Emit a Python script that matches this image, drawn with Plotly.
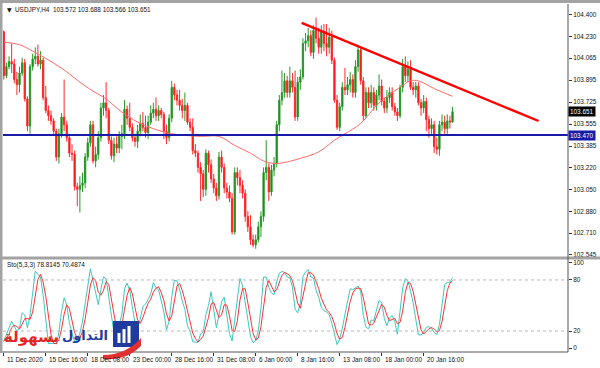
import plotly.graph_objects as go
import numpy as np

# ---------------- data (USDJPY H4) ----------------
opens = [104.27,103.93,104.00,104.04,104.02,103.90,103.86,103.95,104.03,103.75,
         103.54,104.00,104.06,104.08,104.02,104.05,103.76,103.66,103.62,103.58,
         103.50,103.30,103.48,103.61,103.55,103.45,103.33,103.32,103.07,103.05,
         103.08,103.10,103.30,103.41,103.55,103.27,103.32,103.45,103.68,103.72,
         103.66,103.43,103.31,103.40,103.37,103.46,103.48,103.67,103.60,103.53,
         103.45,103.42,103.50,103.56,103.53,103.49,103.57,103.64,103.67,103.62,
         103.66,103.63,103.50,103.45,103.60,103.84,103.78,103.74,103.70,103.66,
         103.70,103.57,103.53,103.35,103.33,103.22,103.17,103.05,103.33,103.24,
         103.13,103.06,103.00,103.30,103.22,103.06,103.03,102.98,102.72,103.18,
         103.14,103.08,103.02,102.84,102.76,102.66,102.62,102.66,102.76,102.84,
         103.18,103.22,103.03,103.20,103.25,103.55,103.74,103.80,103.89,103.80,
         103.89,103.84,103.61,103.88,103.92,104.18,104.20,104.24,104.11,104.28,
         104.22,104.15,104.27,104.18,104.15,104.23,104.05,103.74,103.53,103.69,
         103.84,103.82,103.86,103.90,103.80,104.00,104.13,103.89,103.62,103.80,
         103.72,103.80,103.70,103.78,103.85,103.73,103.68,103.76,103.80,103.69,
         103.65,103.62,103.84,104.00,103.93,103.98,103.84,103.82,103.85,103.72,
         103.68,103.73,103.59,103.52,103.55,103.38,103.36,103.55,103.57,103.52,
         103.58,103.572]
highs = [104.28,104.03,104.08,104.18,104.06,103.96,104.00,104.07,104.06,103.77,
         104.02,104.10,104.15,104.17,104.12,104.07,103.85,103.70,103.66,103.60,
         103.52,103.52,103.64,103.90,103.58,103.48,103.40,103.35,103.10,103.15,
         103.18,103.33,103.45,103.58,103.58,103.38,103.50,103.72,103.78,103.88,
         103.68,103.46,103.45,103.46,103.50,103.55,103.74,103.70,103.72,103.56,
         103.48,103.55,103.63,103.65,103.62,103.62,103.70,103.72,103.76,103.70,
         103.68,103.65,103.55,103.63,103.89,103.87,103.82,103.82,103.75,103.80,
         103.72,103.60,103.60,103.40,103.35,103.26,103.20,103.36,103.35,103.28,
         103.17,103.10,103.34,103.35,103.25,103.10,103.08,103.02,103.22,103.22,
         103.20,103.12,103.05,102.88,102.85,102.70,102.70,102.80,102.88,103.22,
         103.43,103.25,103.24,103.30,103.58,103.78,103.97,103.95,103.93,104.00,
         103.95,103.97,103.92,103.98,104.22,104.26,104.30,104.28,104.32,104.38,
         104.30,104.32,104.33,104.33,104.30,104.28,104.07,103.78,103.72,103.88,
         103.99,103.92,103.96,103.94,104.05,104.17,104.15,103.92,103.84,103.84,
         103.86,103.84,103.82,103.94,103.90,103.76,103.82,103.84,103.84,103.72,
         103.68,103.86,104.06,104.08,104.04,104.05,103.88,103.88,103.88,103.75,
         103.78,103.76,103.62,103.60,103.58,103.45,103.58,103.63,103.62,103.63,
         103.62,103.688]
lows = [103.90,103.91,103.98,103.95,103.87,103.78,103.80,103.93,103.73,103.50,
        103.48,103.97,104.02,104.00,103.98,103.74,103.64,103.58,103.55,103.47,
        103.27,103.25,103.45,103.50,103.42,103.30,103.27,103.04,102.92,102.87,
        103.03,103.06,103.27,103.38,103.25,103.22,103.28,103.42,103.62,103.60,
        103.40,103.28,103.26,103.33,103.33,103.36,103.44,103.55,103.50,103.42,
        103.38,103.37,103.46,103.50,103.45,103.44,103.55,103.60,103.58,103.58,
        103.60,103.44,103.40,103.42,103.57,103.74,103.70,103.66,103.60,103.58,
        103.55,103.50,103.32,103.30,103.18,102.96,102.99,103.00,103.18,103.10,
        103.02,102.96,102.97,103.18,103.02,102.98,102.95,102.70,102.70,103.08,
        103.02,102.98,102.80,102.72,102.62,102.60,102.59,102.64,102.68,102.80,
        103.12,102.96,103.00,103.15,103.22,103.50,103.70,103.76,103.76,103.76,
        103.80,103.58,103.58,103.82,103.90,104.12,104.15,104.08,104.06,104.18,
        104.10,104.10,104.12,104.08,104.10,104.02,103.72,103.51,103.50,103.66,
        103.78,103.78,103.80,103.76,103.76,103.96,103.86,103.58,103.60,103.68,
        103.68,103.66,103.66,103.74,103.70,103.64,103.64,103.72,103.66,103.62,
        103.58,103.60,103.80,103.88,103.88,103.82,103.78,103.76,103.70,103.62,
        103.64,103.50,103.45,103.48,103.33,103.32,103.31,103.50,103.48,103.48,
        103.52,103.566]
closes = [103.93,104.00,104.04,104.02,103.90,103.86,103.95,104.03,103.75,103.54,
          104.00,104.06,104.08,104.02,104.05,103.76,103.66,103.62,103.58,103.50,
          103.30,103.48,103.61,103.55,103.45,103.33,103.32,103.07,103.05,103.08,
          103.10,103.30,103.41,103.55,103.27,103.32,103.45,103.68,103.72,103.66,
          103.43,103.31,103.40,103.37,103.46,103.48,103.67,103.60,103.53,103.45,
          103.42,103.50,103.56,103.53,103.49,103.57,103.64,103.67,103.62,103.66,
          103.63,103.50,103.45,103.60,103.84,103.78,103.74,103.70,103.66,103.70,
          103.57,103.53,103.35,103.33,103.22,103.17,103.05,103.33,103.24,103.13,
          103.06,103.00,103.30,103.22,103.06,103.03,102.98,102.72,103.18,103.14,
          103.08,103.02,102.84,102.76,102.66,102.62,102.66,102.76,102.84,103.18,
          103.22,103.03,103.20,103.25,103.55,103.74,103.80,103.89,103.80,103.89,
          103.84,103.61,103.88,103.92,104.18,104.20,104.24,104.11,104.28,104.22,
          104.15,104.27,104.18,104.15,104.23,104.05,103.74,103.53,103.69,103.84,
          103.82,103.86,103.90,103.80,104.00,104.13,103.89,103.62,103.80,103.72,
          103.80,103.70,103.78,103.85,103.73,103.68,103.76,103.80,103.69,103.65,
          103.62,103.84,104.00,103.93,103.98,103.84,103.82,103.85,103.72,103.68,
          103.73,103.59,103.52,103.55,103.38,103.36,103.55,103.57,103.52,103.58,
          103.572,103.651]

# moving average (at selected bars)
ma_idx = [0, 6, 11, 18, 24, 29, 34, 39, 43, 47, 52, 57, 64, 75, 82, 88, 94, 99,
          104, 113, 120, 126, 130, 136, 143, 151, 155, 158, 164, 171]
ma_vals = [104.19, 104.17, 104.12, 104.04, 103.96, 103.88, 103.81, 103.75, 103.68,
           103.62, 103.56, 103.52, 103.48, 103.46, 103.46, 103.39, 103.33, 103.27,
           103.25, 103.29, 103.34, 103.43, 103.48, 103.56, 103.72, 103.84, 103.89,
           103.89, 103.83, 103.77]

# drawn objects
trend_x = [113.5, 203.8]
trend_y = [104.338, 103.579]
support_level = 103.470
last_price = 103.651

price_ticks = [104.400, 104.230, 104.065, 103.895, 103.725, 103.555, 103.385,
               103.220, 103.050, 102.880, 102.710, 102.545]
sto_ticks = [0, 20, 80, 100]
date_tick_idx = [0, 16, 32, 48, 64, 80, 96, 112, 128, 144, 160]
date_tick_text = ["11 Dec 2020", "15 Dec 16:00", "18 Dec 08:00", "23 Dec 00:00",
                  "28 Dec 16:00", "31 Dec 08:00", "6 Jan 00:00", "8 Jan 16:00",
                  "13 Jan 08:00", "18 Jan 00:00", "20 Jan 16:00"]
title_text = "USDJPY,H4  103.572 103.688 103.566 103.651"
sto_params = (5, 3, 3)
sto_shown = ["78.8145", "70.4874"]

# ---------------- stochastic from the OHLC ----------------
n = len(closes)
idx = list(range(n))
H_ = np.array(highs); L_ = np.array(lows); C_ = np.array(closes)
kp, slow, dp = sto_params
num = np.zeros(n); den = np.zeros(n)
for i in range(n):
    a = max(0, i - kp + 1)
    ll = L_[a:i + 1].min(); hh = H_[a:i + 1].max()
    num[i] = C_[i] - ll; den[i] = hh - ll
K = np.zeros(n)
for i in range(n):
    a = max(0, i - slow + 1)
    d = den[a:i + 1].sum()
    K[i] = 100 * num[a:i + 1].sum() / d if d > 0 else 50
D = np.array([K[max(0, i - dp + 1):i + 1].mean() for i in range(n)])

# ---------------- geometry helpers (pixels -> paper) ----------------
PL, PR, PT, PB = 3, 568, 4, 352
def px(x):
    return (x - PL) / (PR - PL)
def py(y):
    return (PB - y) / (PB - PT)

FONT = "Liberation Sans, Arial, DejaVu Sans, sans-serif"
fs = 6.4

fig = go.Figure()
fig.add_trace(go.Candlestick(
    x=idx, open=opens, high=highs, low=lows, close=closes,
    increasing=dict(line=dict(color="#2a9a2a", width=1), fillcolor="#0b7d0b"),
    decreasing=dict(line=dict(color="#ff2a2a", width=1), fillcolor="#ff0000"),
    whiskerwidth=0, showlegend=False, hoverinfo="skip", xaxis="x", yaxis="y"))
fig.add_trace(go.Scatter(x=ma_idx, y=ma_vals, mode="lines",
                         line=dict(color="#ff6a6a", width=1, shape="spline"),
                         showlegend=False, hoverinfo="skip", xaxis="x", yaxis="y"))
fig.add_trace(go.Scatter(x=trend_x, y=trend_y, mode="lines",
                         line=dict(color="#ff0000", width=2.4),
                         showlegend=False, hoverinfo="skip", xaxis="x", yaxis="y"))
fig.add_trace(go.Scatter(x=idx, y=K, mode="lines", line=dict(color="#3cc8c0", width=1),
                         showlegend=False, hoverinfo="skip", xaxis="x2", yaxis="y2"))
fig.add_trace(go.Scatter(x=idx, y=D, mode="lines", line=dict(color="#ff3030", width=1),
                         showlegend=False, hoverinfo="skip", xaxis="x2", yaxis="y2"))

shapes = []
# support line
shapes.append(dict(type="line", xref="paper", yref="y", x0=0, x1=1,
                   y0=support_level, y1=support_level,
                   line=dict(color="#1a1aa8", width=2)))
# stochastic levels
for lv in (20, 80):
    shapes.append(dict(type="line", xref="paper", yref="y2", x0=0, x1=1, y0=lv, y1=lv,
                       line=dict(color="#b8b8b8", width=1, dash="dot")))
# frame
gray = "#a3a3a3"
shapes.append(dict(type="rect", xref="paper", yref="paper", x0=px(0), x1=px(600),
                   y0=py(3), y1=py(0), fillcolor=gray, line=dict(width=0), layer="above"))
shapes.append(dict(type="rect", xref="paper", yref="paper", x0=px(0), x1=px(2.5),
                   y0=py(353), y1=py(0), fillcolor=gray, line=dict(width=0), layer="above"))
shapes.append(dict(type="rect", xref="paper", yref="paper", x0=px(0), x1=px(600),
                   y0=py(259.5), y1=py(256.5), fillcolor=gray, line=dict(width=0), layer="above"))
shapes.append(dict(type="line", xref="paper", yref="paper", x0=1, x1=1, y0=0, y1=py(4),
                   line=dict(color="#555555", width=1)))
shapes.append(dict(type="line", xref="paper", yref="paper", x0=px(2.5), x1=1, y0=0, y1=0,
                   line=dict(color="#555555", width=1)))

# logo icon
shapes.append(dict(type="rect", xref="paper", yref="paper", x0=px(113), x1=px(139),
                   y0=py(347), y1=py(321), fillcolor="#1f3c9c", line=dict(width=0), layer="above"))
for (x0, x1, ytop) in [(117.5, 120.5, 333), (122.5, 125.5, 329), (127.5, 130.5, 326)]:
    shapes.append(dict(type="rect", xref="paper", yref="paper", x0=px(x0), x1=px(x1),
                       y0=py(343), y1=py(ytop), fillcolor="white", line=dict(width=0), layer="above"))
sw = "M {a},{b} Q {c},{d} {e},{f} L {g},{h} Q {i},{j} {k},{l} Z".format(
    a=px(103), b=py(355), c=px(126), d=py(355), e=px(141), f=py(338),
    g=px(141), h=py(346), i=px(126), j=py(361), k=px(103), l=py(359))
shapes.append(dict(type="path", xref="paper", yref="paper", path=sw,
                   fillcolor="#e03030", line=dict(width=0), layer="above"))

ann = []
ann.append(dict(xref="paper", yref="paper", x=px(5), y=py(9), xanchor="left", yanchor="middle",
                text="\u25bc", showarrow=False, font=dict(family="DejaVu Sans", size=6, color="#111")))
ann.append(dict(xref="paper", yref="paper", x=px(13), y=py(9), xanchor="left", yanchor="middle",
                text=title_text, showarrow=False, font=dict(family=FONT, size=fs, color="#111")))
ann.append(dict(xref="paper", yref="paper", x=px(5), y=py(265), xanchor="left", yanchor="middle",
                text="Sto(%d,%d,%d) %s %s" % (sto_params + tuple(sto_shown)), showarrow=False,
                font=dict(family=FONT, size=fs, color="#111")))
for ti, tt in zip(date_tick_idx, date_tick_text):
    ann.append(dict(xref="x2", yref="paper", x=ti, y=py(359), xanchor="left", yanchor="middle",
                    xshift=1, text=tt, showarrow=False, font=dict(family=FONT, size=fs, color="#111")))
ann.append(dict(xref="paper", yref="y", x=1, y=last_price, xanchor="left", yanchor="middle",
                text=f"{last_price:.3f}", showarrow=False, bgcolor="#000000", borderpad=1,
                font=dict(family=FONT, size=fs, color="#ffffff")))
ann.append(dict(xref="paper", yref="y", x=1, y=support_level, xanchor="left", yanchor="middle",
                text=f"{support_level:.3f}", showarrow=False, bgcolor="#1a1aa8", borderpad=1,
                font=dict(family=FONT, size=fs, color="#ffffff")))
# logo text
ann.append(dict(xref="paper", yref="paper", x=px(61), y=py(337), xanchor="right", yanchor="middle",
                text="<b>بسهولة</b>", showarrow=False,
                font=dict(family="DejaVu Sans", size=15, color="#e52424")))
ann.append(dict(xref="paper", yref="paper", x=px(110), y=py(335), xanchor="right", yanchor="middle",
                text="<b>التداول</b>", showarrow=False,
                font=dict(family="DejaVu Sans", size=13, color="#1f3c9c")))

main_bottom = py(257)
sto_top = py(260)
ymin, ymax = 102.526, 104.485
fig.update_layout(
    width=600, height=368,
    margin=dict(l=PL, r=600 - PR, t=PT, b=368 - PB),
    paper_bgcolor="white", plot_bgcolor="white",
    showlegend=False,
    xaxis=dict(domain=[0, 1], range=[-0.3, 215.0], anchor="y", showticklabels=False,
               showgrid=False, zeroline=False, rangeslider=dict(visible=False), ticks=""),
    xaxis2=dict(domain=[0, 1], matches="x", anchor="y2", showgrid=False, zeroline=False,
                tickmode="array", tickvals=date_tick_idx, showticklabels=False,
                ticks="outside", ticklen=3, tickcolor="#333"),
    yaxis=dict(domain=[main_bottom, 1], range=[ymin, ymax], side="right", anchor="x",
               tickmode="array", tickvals=price_ticks, ticktext=[f"{v:.3f}" for v in price_ticks],
               ticks="outside", ticklen=3, tickcolor="#333", showgrid=False, zeroline=False,
               tickfont=dict(family=FONT, size=fs, color="#111")),
    yaxis2=dict(domain=[0, sto_top], range=[-4.7, 103.5], side="right", anchor="x2",
                tickmode="array", tickvals=sto_ticks, ticks="outside", ticklen=3,
                tickcolor="#333", showgrid=False, zeroline=False,
                tickfont=dict(family=FONT, size=fs, color="#111")),
    shapes=shapes, annotations=ann,
)
fig.write_html("out.html", config={"displayModeBar": False},
               post_script="document.body.style.margin='0px';")
